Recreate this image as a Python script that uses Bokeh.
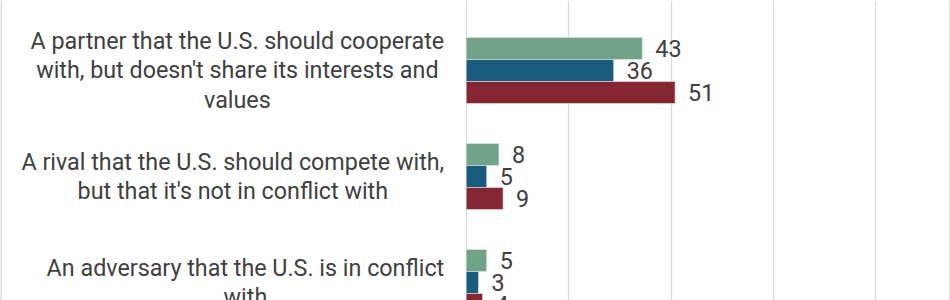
from bokeh.plotting import figure
from bokeh.models import Range1d, FixedTicker, ColumnDataSource, Span
from bokeh.core.properties import value
from bokeh.embed import file_html
from bokeh.resources import INLINE

categories = [
    "A partner that the U.S. should cooperate\nwith, but doesn't share its interests and\nvalues",
    "A rival that the U.S. should compete with,\nbut that it's not in conflict with",
    "An adversary that the U.S. is in conflict\nwith",
]
series_green = [43, 8, 5]
series_blue = [36, 5, 3]
series_red = [51, 9, 4]
grid_ticks = [0, 25, 50, 75, 100]

colors = ["#70A388", "#175C7D", "#862633"]
FONT = "Roboto"
TEXT_COLOR = "#404040"
FS = "23.3px"

W, H = 950, 300
px_per_unit = 4.096
zero_px = 465.7
x_start = -zero_px / px_per_unit
x_end = x_start + W / px_per_unit

group_px = 106.0
first_center_px = 70.0
y_top = -first_center_px / group_px
y_bottom = (H - first_center_px) / group_px
bar_h = 22.0 / group_px

p = figure(width=W, height=H, output_backend="svg", toolbar_location=None,
           x_range=Range1d(x_start, x_end), y_range=Range1d(y_bottom, y_top),
           min_border=0, min_border_left=0, min_border_right=0,
           min_border_top=0, min_border_bottom=0)
p.xaxis.visible = False
p.yaxis.visible = False
p.outline_line_color = None
p.ygrid.grid_line_color = None
p.xgrid.ticker = FixedTicker(ticks=grid_ticks)
p.xgrid.grid_line_color = "#d9d9d9"
p.xgrid.grid_line_width = 1.2
p.background_fill_color = "white"
p.border_fill_color = "white"

idx = list(range(len(categories)))
offsets = [-bar_h, 0.0, bar_h]
for vals, off, col in zip([series_green, series_blue, series_red], offsets, colors):
    src = ColumnDataSource(dict(y=[i + off for i in idx], right=vals,
                                lab=[str(v) for v in vals]))
    p.hbar(y="y", left=0, right="right", height=bar_h, source=src,
           fill_color=col, line_color="#e8e8e8", line_width=0.6)
    p.text(x="right", y="y", text="lab", source=src, x_offset=13,
           text_font=value(FONT), text_font_size=FS, text_color=TEXT_COLOR,
           text_align="left", text_baseline="middle")

lsrc = ColumnDataSource(dict(x=[0] * len(categories), y=idx, t=categories))
p.text(x="x", y="y", text="t", source=lsrc, x_offset=-22,
       anchor="center_right", text_align="center", text_baseline="middle",
       text_line_height=1.05,
       text_font=value(FONT), text_font_size=FS, text_color=TEXT_COLOR)

p.add_layout(Span(location=x_start, dimension="height", line_color="#dedede", line_width=3))
p.add_layout(Span(location=x_end, dimension="height", line_color="#dedede", line_width=3))

open("out.html", "w").write(file_html(p, INLINE))
